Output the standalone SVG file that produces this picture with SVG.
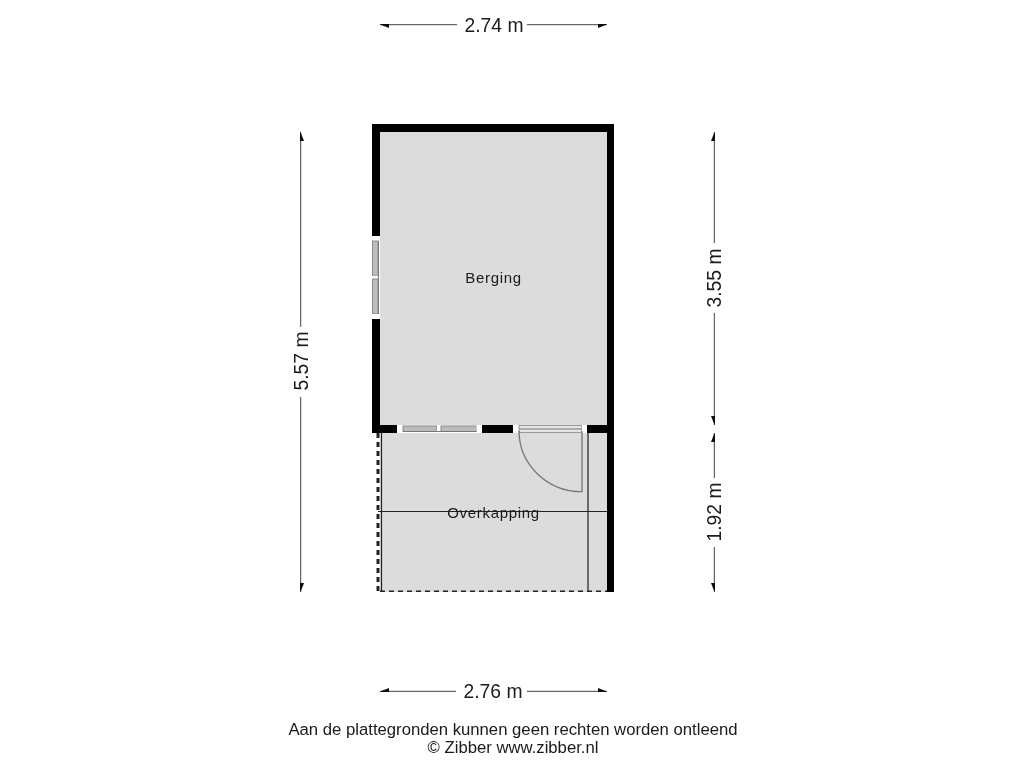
<svg xmlns="http://www.w3.org/2000/svg" width="1024" height="768" viewBox="0 0 1024 768">
<style>
text{font-family:"Liberation Sans",Arial,sans-serif;fill:#1a1a1a}
.dim{font-size:19.300px;text-anchor:middle}
.room{font-size:15px;text-anchor:middle;letter-spacing:.7px}
.note{font-size:16.700px;text-anchor:middle}
.dl{stroke:#666;stroke-width:1.500;fill:none;marker-end:url(#ah)}
.thin{stroke:#222;stroke-width:1.200;fill:none}
.wall{fill:#000}
.gap{fill:#fff}
.win{fill:#bcbcbc;stroke:#8a8a8a;stroke-width:1}
.sash{stroke:#777;stroke-width:1;fill:none}
.dash{stroke:#222;stroke-width:3;stroke-dasharray:5 4;fill:none}
.door{stroke:#777;stroke-width:1.300;fill:none}
</style>
<defs>
<marker id="ah" viewBox="0 0 9 7" refX="9" refY="3.500" markerWidth="9" markerHeight="7" markerUnits="userSpaceOnUse" orient="auto"><path d="M0 0L9 3.500L0 7Z" fill="#111"/></marker>
<filter id="soft" x="0" y="0" width="100%" height="100%"><feGaussianBlur stdDeviation="0.4"/></filter>
</defs>
<rect width="1024" height="768" fill="#fff"/>
<g filter="url(#soft)">
<g id="overkapping">
<rect x="380" y="433" width="227" height="159" fill="#dcdcdc"/>
<path class="thin" d="M381.500 433V592M588 433V592M378 511.500H607"/>
<path class="dash" d="M378 433V592M380 592H607"/>
<text class="room" x="493.500" y="518">Overkapping</text>
</g>
<g id="berging">
<rect x="380" y="132" width="227" height="293" fill="#dcdcdc"/>
<text class="room" x="493.500" y="283">Berging</text>
</g>
<g id="walls">
<path class="wall" d="M372 124H614V592H607V433H587V425H607V132H380V236H372ZM372 319H380V425H397V433H372ZM482 425H513V433H482Z"/>
</g>
<g id="window-left">
<rect class="gap" x="372" y="236" width="8" height="5"/>
<rect class="win" x="372.500" y="241" width="5.500" height="35"/>
<rect class="gap" x="372" y="276" width="8" height="3"/>
<rect class="win" x="372.500" y="279" width="5.500" height="35"/>
<rect class="gap" x="372" y="314" width="8" height="5"/>
<path class="sash" d="M378.500 241V314"/>
</g>
<g id="window-bottom">
<rect class="gap" x="397" y="425" width="6" height="8"/>
<rect class="win" x="403" y="426" width="34" height="5.500"/>
<rect class="gap" x="437" y="425" width="4" height="8"/>
<rect class="win" x="441" y="426" width="35.500" height="5.500"/>
<rect class="gap" x="476.500" y="425" width="5.500" height="8"/>
<path class="sash" d="M403 431.500H476.500"/>
</g>
<g id="door">
<rect class="gap" x="513" y="425" width="6" height="8"/>
<rect x="519" y="425.500" width="63" height="7" fill="#e4e4e4" stroke="#9a9a9a" stroke-width="1"/>
<path class="sash" d="M519 429H582"/>
<rect class="gap" x="582" y="425" width="5" height="8"/>
<path class="door" d="M582 431V491.700A63 61 0 0 1 519 431"/>
</g>
</g>
<g id="connectors" filter="url(#soft)">
<path class="dl" d="M457 24.500H380"/><path class="dl" d="M527 24.500H607"/>
<path class="dl" d="M456 691.500H380"/><path class="dl" d="M527 691.500H607"/>
<path class="dl" d="M300.500 327V132"/><path class="dl" d="M300.500 397V592"/>
<path class="dl" d="M714.500 243V132"/><path class="dl" d="M714.500 313V425"/>
<path class="dl" d="M714.500 478V433"/><path class="dl" d="M714.500 547V592"/>
</g>
<g id="labels" filter="url(#soft)">
<text class="dim" x="494" y="32">2.74 m</text>
<text class="dim" x="493" y="698">2.76 m</text>
<text class="dim" transform="translate(308 361) rotate(-90)">5.57 m</text>
<text class="dim" transform="translate(721 278) rotate(-90)">3.55 m</text>
<text class="dim" transform="translate(721 512) rotate(-90)">1.92 m</text>
<text class="note" x="513" y="735">Aan de plattegronden kunnen geen rechten worden ontleend</text>
<text class="note" x="513" y="753">© Zibber www.zibber.nl</text>
</g>
</svg>
